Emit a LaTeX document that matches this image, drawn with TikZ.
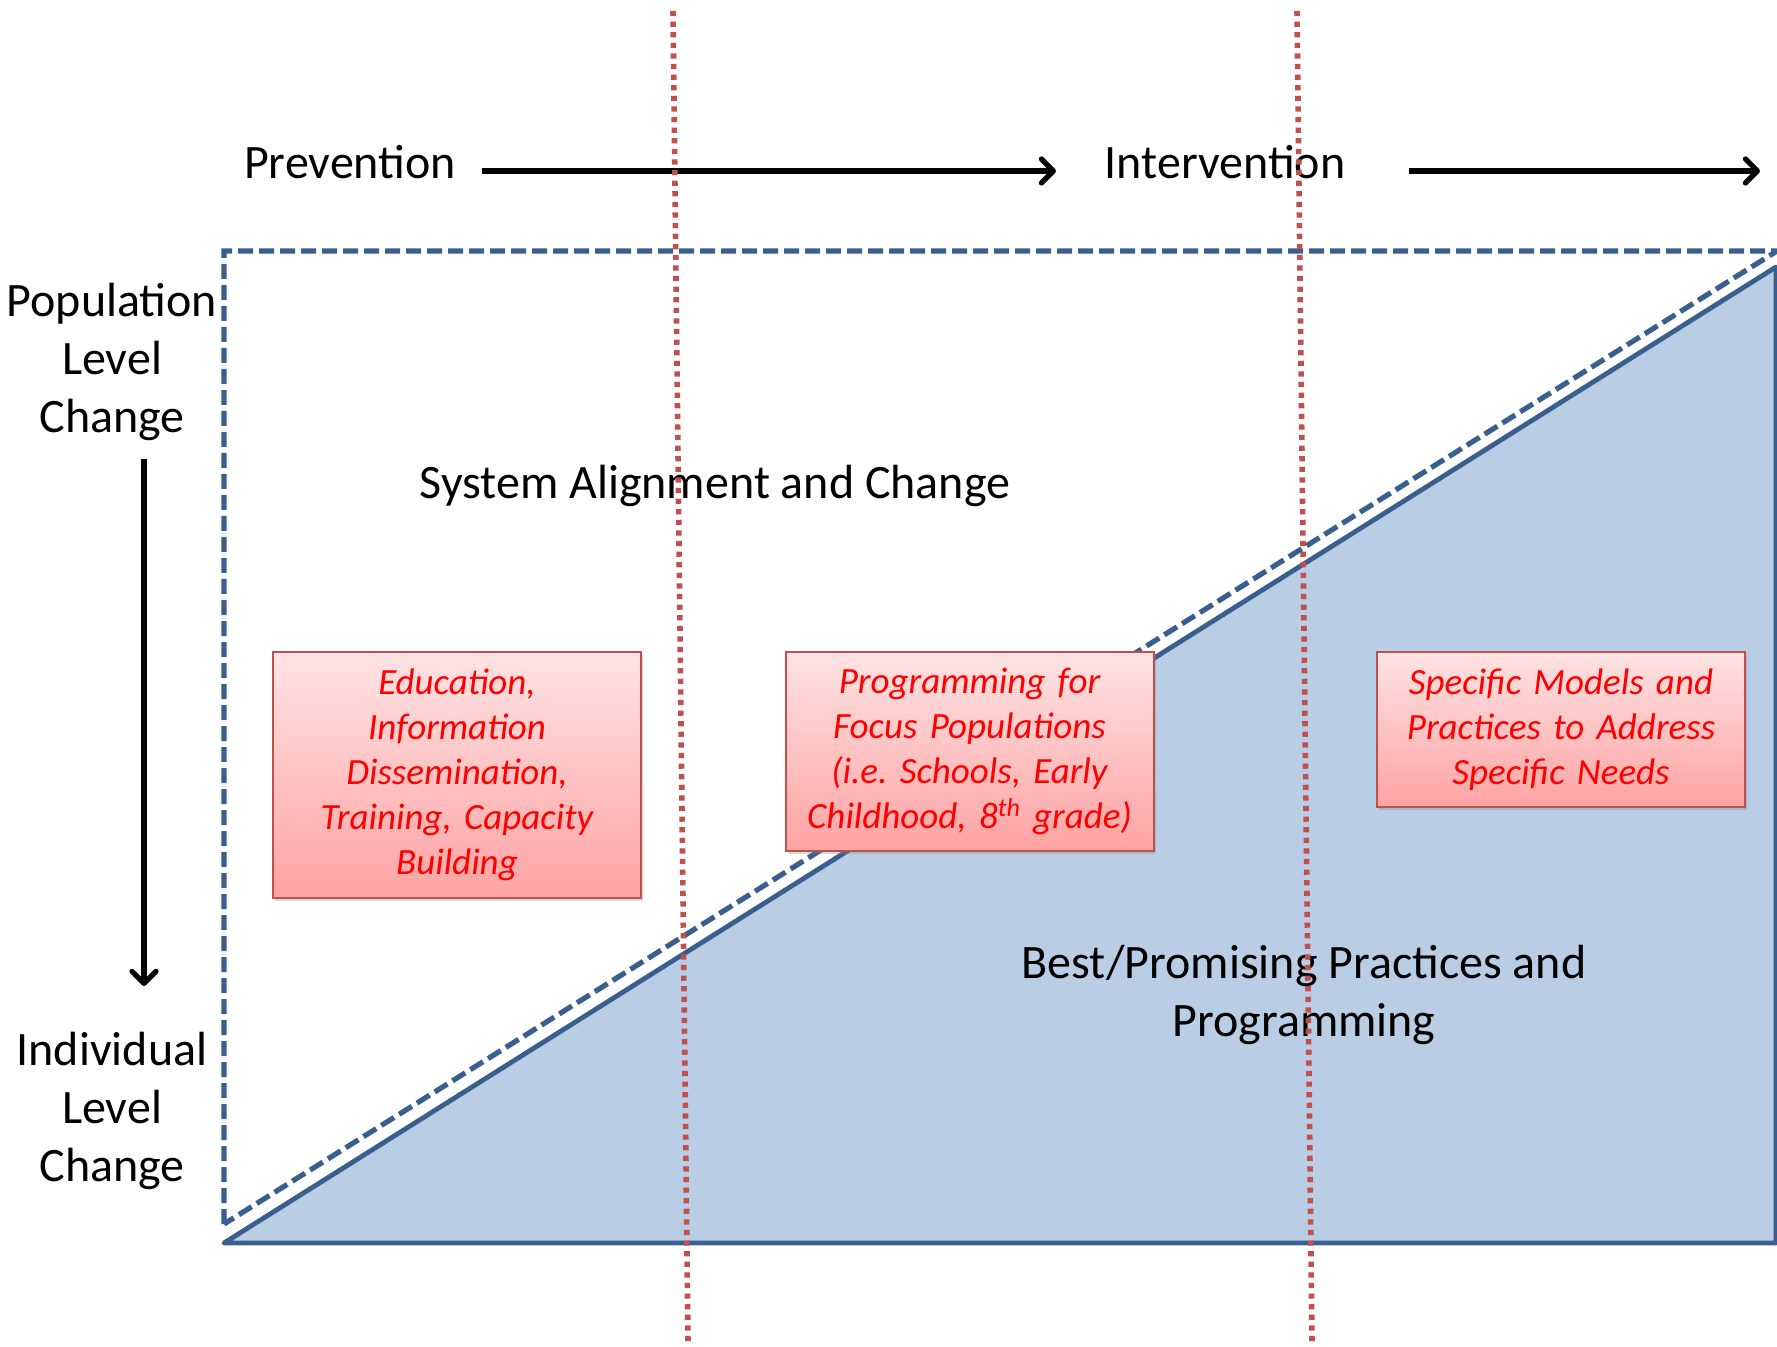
\documentclass[tikz,border=0pt]{standalone}
\usepackage{fontspec}
\setmainfont{Carlito}
\usetikzlibrary{arrows.meta,shadows}
\frenchspacing

\definecolor{frameblue}{HTML}{3A5F8E}
\definecolor{areablue}{HTML}{B9CDE4}
\definecolor{splitred}{HTML}{C0504D}
\definecolor{boxtop}{HTML}{FFE3E3}
\definecolor{boxbottom}{HTML}{FFA3A3}

\begin{document}
\begin{tikzpicture}[x=0.5pt,y=-0.5pt,
  heading/.style={font=\fontsize{24}{29}\selectfont, align=center, inner sep=0pt},
  stagebox/.style={draw=splitred, line width=1pt, top color=boxtop,
    bottom color=boxbottom, text=red, font=\fontsize{18.5}{22.5}\selectfont\itshape,
    align=center, text width=176pt, minimum width=184pt, inner sep=0pt,
    drop shadow={shadow xshift=1pt, shadow yshift=-1.5pt, opacity=0.3}},
  flow/.style={line width=2.6pt,
    -{Straight Barb[length=6pt,width=12pt,line cap=round,line join=round]}},
  divider/.style={splitred, line width=2.8pt, dash pattern=on 2.6pt off 2.7pt}]

  \useasboundingbox (0,0) rectangle (1777,1347); %% page size

  %% the two areas
  \filldraw[fill=areablue, draw=frameblue, line width=2.4pt, line join=round]
  (224,1243) -- (1776,1243) -- (1776,267) -- cycle;
  \draw[frameblue, line width=2.6pt, dash pattern=on 7.5pt off 3pt]
  (224,1224) -- (224,251) -- (1777,251) -- cycle;

  %% top axis
  \node[heading, anchor=base] (prev) at (350,179) {Prevention};
  \node[heading, anchor=base] (interv) at (1225,179) {Intervention};
  \coordinate (prevtail) at (482,171);
  \coordinate (prevhead) at (1056,171);
  \coordinate (intervtail) at (1409,171);
  \coordinate (intervhead) at (1760,171);
  \draw[flow] (prevtail) -- (prevhead);
  \draw[flow] (intervtail) -- (intervhead);

  %% side axis
  \node[heading] (poplevel) at (112,362) {Population\\Level\\Change};
  \node[heading] (indlevel) at (112,1111) {Individual\\Level\\Change};
  \coordinate (sidetail) at (144,459);
  \coordinate (sidehead) at (144,986);
  \draw[flow] (sidetail) -- (sidehead);

  \node[heading, anchor=base] (sysalign) at (715,499) {System Alignment and Change};
  \node[heading] (bestprac) at (1304,995) {Best/Promising Practices and\\Programming};

  \node[stagebox, minimum height=123pt] (educbox) at (457,775)
  {Education,\\Information\\Dissemination,\\Training, Capacity\\Building};
  \node[stagebox, minimum height=99.5pt] (focusbox) at (969.5,751.5)
  {Programming for\\Focus Populations\\(i.e. Schools, Early\\Childhood, 8\textsuperscript{th} grade)};
  \node[stagebox, minimum height=77.5pt] (needsbox) at (1561,729.5)
  {Specific Models and\\Practices to Address\\Specific Needs};

  %% dotted dividers
  \draw[divider] (673,11) -- (688,1343);
  \draw[divider] (1297,11) -- (1312,1343);

\end{tikzpicture}
\end{document}
